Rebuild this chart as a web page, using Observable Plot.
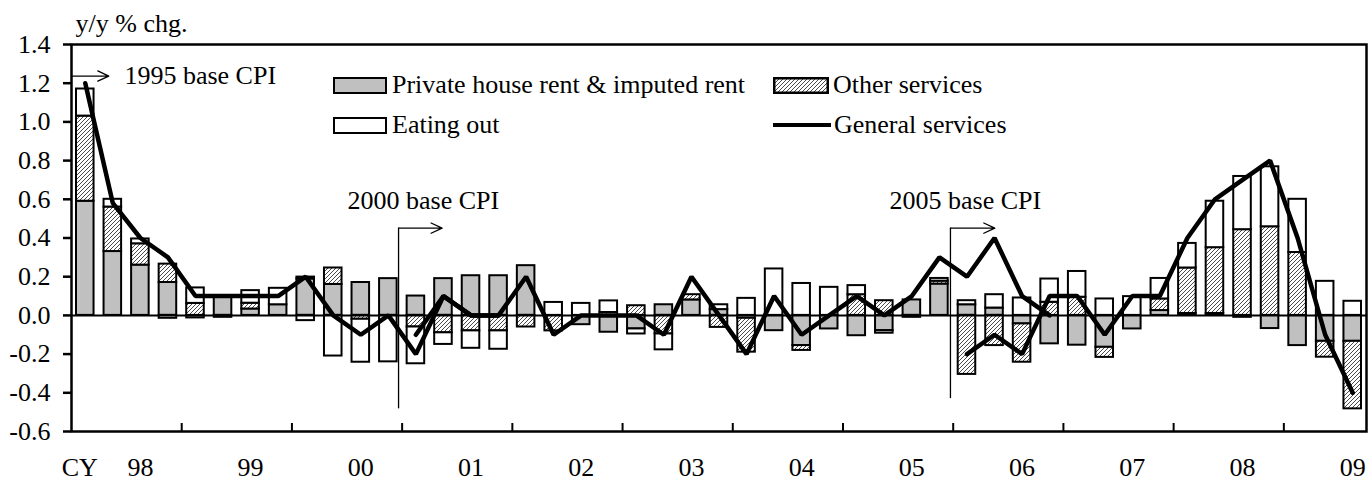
<!DOCTYPE html>
<html><head><meta charset="utf-8">
<script src="https://cdn.jsdelivr.net/npm/d3@7"></script>
<script src="https://cdn.jsdelivr.net/npm/@observablehq/plot@0.6"></script>
<style>
body{margin:0;background:#fff;}
#wrap{position:relative;width:1368px;height:481px;font-family:"Liberation Serif","Times New Roman",serif;}
.item{position:absolute;display:flex;align-items:center;height:30px;font-size:26px;line-height:1;color:#000;white-space:nowrap;}
.sw{box-sizing:border-box;width:54px;height:17px;border:2.5px solid #000;margin-right:5px;}
.ln{width:58px;height:4.5px;background:#000;margin-right:3px;}
</style></head><body><div id="wrap"></div>
<script>
// ---- data (y/y % chg., quarterly 1998Q1 - 2009Q3) ----
const years = ["98","99","00","01","02","03","04","05","06","07","08","09"];
const quartersPerYear = 4;
const quarterCount = 47;
const rent = [0.59,0.33,0.26,0.17,-0.013,0.10,0.033,0.055,0.188,0.16,
  0.17,0.19,0.10,0.19,0.205,0.205,0.257,0,-0.048,-0.087,
  -0.07,0.055,0.08,0.03,-0.015,-0.079,-0.156,-0.07,-0.105,-0.079,
  0.08,0.162,0.055,0.038,-0.044,-0.147,-0.154,-0.165,-0.07,0.025,
  0.01,0.01,-0.01,-0.068,-0.156,-0.134,-0.134];
const other = [0.44,0.23,0.11,0.095,0.062,0,0.03,0,0.01,0.085,
  -0.02,0,-0.06,-0.09,-0.08,-0.08,-0.06,-0.08,0,0.015,
  0.05,-0.096,0.027,-0.062,-0.175,0,-0.025,0,0.107,0.076,
  0,0.015,-0.305,-0.156,-0.198,0.068,0.094,-0.052,0,0.06,
  0.235,0.34,0.443,0.458,0.325,-0.082,-0.349];
const eating = [0.14,0.04,0.025,-0.015,0.08,-0.01,0.065,0.085,-0.027,-0.21,
  -0.222,-0.24,-0.19,-0.06,-0.09,-0.095,0,0.067,0.062,0.06,
  -0.026,-0.082,0,0.025,0.088,0.24,0.165,0.145,0.047,-0.013,
  -0.01,0.014,0.021,0.069,0.09,0.12,0.133,0.085,0.097,0.106,
  0.127,0.24,0.275,0.31,0.275,0.176,0.073];
const general1995 = [1.2,0.58,0.4,0.3,0.1,0.1,0.1,0.1,0.2,0.0,-0.1,0.0,-0.2,0.1,0.0,0.0];
const general1995Start = 0;
const general2000 = [-0.1,0.1,0.0,0.0,0.2,-0.1,0.0,0.0,0.0,-0.1,0.2,0.0,-0.2,0.1,-0.1,0.0,0.1,0.0,0.1,0.3,0.2,0.4,0.1,0.0];
const general2000Start = 12;
const general2005 = [-0.2,-0.1,-0.2,0.1,0.1,-0.1,0.1,0.1,0.4,0.6,0.7,0.8,0.4,-0.1,-0.4];
const general2005Start = 32;
const yTicks = [-0.6,-0.4,-0.2,0,0.2,0.4,0.6,0.8,1.0,1.2,1.4];
const seriesNames = ["Private house rent & imputed rent","Other services","Eating out"];
// base-change annotations (x in quarter units, y in % units)
const baseLines = [
  {label:"2000 base CPI", q:11.87, top:0.451, bottom:-0.483, tip:13.45, lx:12.77, ly:0.592},
  {label:"2005 base CPI", q:31.9, top:0.451, bottom:-0.43, tip:33.51, lx:32.44, ly:0.592}
];
const baseStart = [{label:"1995 base CPI", q:0, y:1.237, tip:1.354, lx:1.92}];

// ---- build tables ----
const bars = [];
for (let i = 0; i < quarterCount; i++) {
  [[seriesNames[0], rent[i]], [seriesNames[1], other[i]], [seriesNames[2], eating[i]]]
    .forEach(([s, v]) => { if (v !== 0) bars.push({i, series: s, value: v}); });
}
const lineData = [];
[[general1995, general1995Start, "1995"], [general2000, general2000Start, "2000"], [general2005, general2005Start, "2005"]]
  .forEach(([arr, st, b]) => arr.forEach((v, k) => lineData.push({i: st + k, value: v, base: b})));
const xLabels = [{label: "CY", q: 0.3}].concat(years.map((y, k) => ({label: y, q: k * quartersPerYear + 2.5})));
const yearBounds = d3.range(1, years.length).map(k => k * quartersPerYear);

const W = 1368, H = 481, mL = 71, mR = 2, mT = 44, mB = 50;
const innerW = W - mL - mR, innerH = H - mT - mB;

const defs = () => {
  const g = d3.create("svg:g");
  const p = g.append("defs").append("pattern").attr("id", "hatch")
    .attr("patternUnits", "userSpaceOnUse").attr("width", 4).attr("height", 4);
  p.append("rect").attr("width", 4).attr("height", 4).attr("fill", "white");
  p.append("path").attr("d", "M-1,1 l2,-2 M0,4 l4,-4 M3,5 l2,-2")
    .attr("stroke", "#4a4a4a").attr("stroke-width", 1);
  return g.node();
};

const chart = Plot.plot({
  width: W, height: H,
  marginLeft: mL, marginRight: mR, marginTop: mT, marginBottom: mB,
  style: {fontFamily: "Liberation Serif, Times New Roman, serif", fontSize: "26px", background: "white", color: "black", overflow: "visible"},
  x: {domain: [0, quarterCount], axis: null},
  y: {domain: [-0.6, 1.4], axis: null},
  color: {domain: seriesNames, range: ["#c0c0c0", "url(#hatch)", "#ffffff"]},
  marks: [
    defs,
    Plot.rectY(bars, {x1: "i", x2: d => d.i + 1, y: "value", fill: "series", stroke: "black", strokeWidth: 2, insetLeft: 5, insetRight: 5}),
    Plot.ruleY([0], {stroke: "black", strokeWidth: 2}),
    Plot.ruleX(baseLines, {x: "q", y1: "bottom", y2: "top", stroke: "black", strokeWidth: 1.3}),
    Plot.arrow(baseLines, {x1: "q", x2: "tip", y1: "top", y2: "top", stroke: "black", strokeWidth: 1.3, headLength: 14, headAngle: 50}),
    Plot.text(baseLines, {x: "lx", y: "ly", text: "label", fontSize: 26, fill: "black"}),
    Plot.arrow(baseStart, {x1: "q", x2: "tip", y1: "y", y2: "y", stroke: "black", strokeWidth: 1.3, headLength: 14, headAngle: 50}),
    Plot.text(baseStart, {x: "lx", y: "y", text: "label", textAnchor: "start", fontSize: 26, fill: "black"}),
    Plot.line(lineData, {x: d => d.i + 0.5, y: "value", z: "base", stroke: "black", strokeWidth: 4.5, strokeLinejoin: "miter"}),
    Plot.frame({stroke: "black", strokeWidth: 2.5}),
    Plot.tickY(yTicks, {y: d => d, insetLeft: -8, insetRight: innerW, stroke: "black", strokeWidth: 2.5}),
    Plot.text(yTicks, {y: d => d, text: d => d.toFixed(1), frameAnchor: "left", textAnchor: "end", dx: -21, fontSize: 26, fill: "black"}),
    Plot.tickX(yearBounds, {x: d => d, insetTop: innerH - 8, stroke: "black", strokeWidth: 2}),
    Plot.text(xLabels, {x: "q", text: "label", frameAnchor: "bottom", lineAnchor: "middle", dy: 36, fontSize: 26, fill: "black"}),
    Plot.text(["y/y % chg."], {frameAnchor: "top-left", lineAnchor: "middle", dx: 4, dy: -21, textAnchor: "start", fontSize: 26, fill: "black"})
  ]
});
const wrap = document.getElementById("wrap");
wrap.appendChild(chart);

// legend (inside plot area, top)
const legend = [
  {left: 333, top: 70, kind: "gray", text: seriesNames[0]},
  {left: 773, top: 70, kind: "hatch", text: seriesNames[1]},
  {left: 333, top: 110, kind: "white", text: seriesNames[2]},
  {left: 773, top: 110, kind: "line", text: "General services"}
];
legend.forEach(l => {
  const d = document.createElement("div");
  d.className = "item";
  d.style.left = l.left + "px"; d.style.top = l.top + "px";
  let sw;
  if (l.kind === "line") {
    sw = document.createElement("div"); sw.className = "ln";
  } else if (l.kind === "hatch") {
    sw = document.createElementNS("http://www.w3.org/2000/svg", "svg");
    sw.setAttribute("width", 56); sw.setAttribute("height", 17);
    sw.style.marginRight = "4px";
    sw.innerHTML = '<rect x="1.25" y="1.25" width="53.5" height="14.5" fill="url(#hatch)" stroke="black" stroke-width="2.5"/>';
  } else {
    sw = document.createElement("div"); sw.className = "sw";
    sw.style.background = l.kind === "gray" ? "#c0c0c0" : "#ffffff";
  }
  const t = document.createElement("span"); t.textContent = l.text;
  d.appendChild(sw); d.appendChild(t);
  wrap.appendChild(d);
});
</script></body></html>
